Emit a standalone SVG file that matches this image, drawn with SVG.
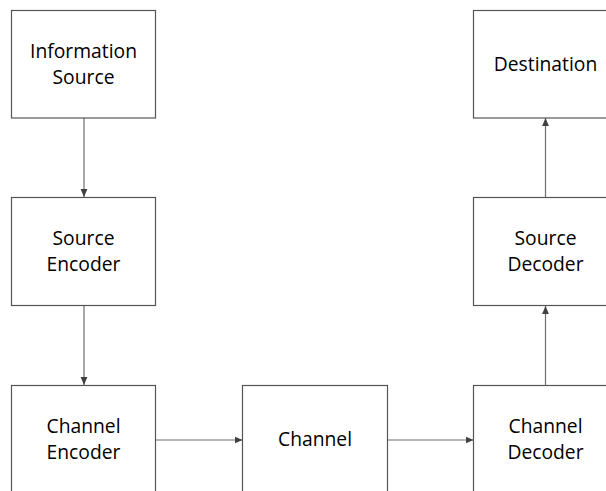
<svg xmlns="http://www.w3.org/2000/svg" width="606" height="491" viewBox="0 0 606 491">
  <style>
    .box { fill: #ffffff; stroke: #555555; stroke-width: 1.2; }
    .label { font-family: "Open Sans", "Noto Sans", sans-serif; font-size: 19.3px; fill: #000000; text-anchor: middle; }
    .link { stroke: #6e6e6e; stroke-width: 1.2; fill: none; marker-end: url(#head); }
  </style>
  <defs>
    <marker id="head" viewBox="0 0 8 8" refX="8" refY="4" markerWidth="8" markerHeight="8" markerUnits="userSpaceOnUse" orient="auto">
      <path d="M0,0.6 L8,4 L0,7.4 z" fill="#404040"/>
    </marker>
  </defs>
  <rect width="606" height="491" fill="#ffffff"/>

  <g id="connectors">
    <line class="link" x1="84" y1="118" x2="84" y2="197"/>
    <line class="link" x1="84" y1="306" x2="84" y2="385"/>
    <line class="link" x1="156" y1="440" x2="242.5" y2="440"/>
    <line class="link" x1="387.5" y1="440" x2="473.5" y2="440"/>
    <line class="link" x1="545.5" y1="385" x2="545.5" y2="306"/>
    <line class="link" x1="545.5" y1="197" x2="545.5" y2="118"/>
  </g>

  <g id="information-source">
    <rect class="box" x="11.5" y="10.5" width="144" height="107.5"/>
    <text class="label" x="83.5" y="58">Information</text>
    <text class="label" x="83.5" y="84">Source</text>
  </g>

  <g id="source-encoder">
    <rect class="box" x="11.5" y="197.5" width="144" height="108"/>
    <text class="label" x="83.5" y="245">Source</text>
    <text class="label" x="83.5" y="271">Encoder</text>
  </g>

  <g id="channel-encoder">
    <rect class="box" x="11.5" y="385.5" width="144" height="108"/>
    <text class="label" x="83.5" y="433">Channel</text>
    <text class="label" x="83.5" y="459">Encoder</text>
  </g>

  <g id="channel">
    <rect class="box" x="242.5" y="385.5" width="145" height="108"/>
    <text class="label" x="315" y="446">Channel</text>
  </g>

  <g id="channel-decoder">
    <rect class="box" x="473.5" y="385.5" width="144" height="108"/>
    <text class="label" x="545.5" y="433">Channel</text>
    <text class="label" x="545.5" y="459">Decoder</text>
  </g>

  <g id="source-decoder">
    <rect class="box" x="473.5" y="197.5" width="144" height="108"/>
    <text class="label" x="545.5" y="245">Source</text>
    <text class="label" x="545.5" y="271">Decoder</text>
  </g>

  <g id="destination">
    <rect class="box" x="473.5" y="10.5" width="144" height="107.5"/>
    <text class="label" x="545.5" y="71">Destination</text>
  </g>
</svg>
